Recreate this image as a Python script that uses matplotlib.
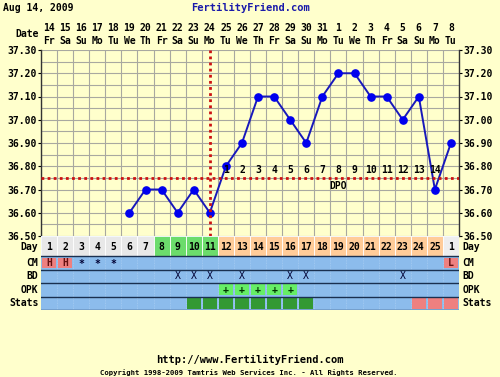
import matplotlib
matplotlib.use("Agg")
import matplotlib.pyplot as plt
import numpy as np
from matplotlib.transforms import blended_transform_factory

# ---------------- data ----------------
dates = [14, 15, 16, 17, 18, 19, 20, 21, 22, 23, 24, 25, 26, 27, 28, 29, 30, 31,
         1, 2, 3, 4, 5, 6, 7, 8]
weekdays = ['Fr', 'Sa', 'Su', 'Mo', 'Tu', 'We', 'Th', 'Fr', 'Sa', 'Su', 'Mo', 'Tu', 'We',
            'Th', 'Fr', 'Sa', 'Su', 'Mo', 'Tu', 'We', 'Th', 'Fr', 'Sa', 'Su', 'Mo', 'Tu']
cycle_days = list(range(1, 26)) + [1]
temp_cols = list(range(5, 26))  # column index (0-based) of charted temps (cycle day 6 .. next day 1)
temps = [36.60, 36.70, 36.70, 36.60, 36.70, 36.60, 36.80, 36.90, 37.10, 37.10, 37.00,
         36.90, 37.10, 37.20, 37.20, 37.10, 37.10, 37.00, 37.10, 36.70, 36.90]
coverline = 36.75
ovulation_col = 10  # cycle day 11
dpo_cols = list(range(11, 25))
dpo_labels = [str(i) for i in range(1, 15)]
cm_marks = {0: 'H', 1: 'H', 2: '*', 3: '*', 4: '*', 25: 'L'}
bd_cols = [8, 9, 10, 12, 15, 16, 22]
opk_cols = [11, 12, 13, 14, 15]
stats_green = [9, 10, 11, 12, 13, 14, 15, 16]
stats_red = [23, 24, 25]
y_ticks = [36.50, 36.60, 36.70, 36.80, 36.90, 37.00, 37.10, 37.20, 37.30]
row_names = ['Day', 'CM', 'BD', 'OPK', 'Stats']

# ---------------- style ----------------
BG = '#FFFFCC'
GRID = '#A8A8A0'
BLUE_ROW = '#8CBCEC'
FONT = 'DejaVu Sans Mono'
fs = 7

W, H = 500, 377
fig = plt.figure(figsize=(W / 100, H / 100), dpi=100, facecolor=BG)

L, R = 41, 459
top, chart_bot, table_bot = 50, 236, 310
ncol = len(dates)

ax = fig.add_axes([L / W, 1 - chart_bot / H, (R - L) / W, (chart_bot - top) / H])
ax.set_facecolor(BG)
ax.set_xlim(0, ncol)
ax.set_ylim(36.5, 37.3)

# grid
for x in range(ncol + 1):
    ax.axvline(x, color=GRID, lw=0.8, zorder=1)
for yv in np.arange(36.5, 37.3001, 0.05):
    ax.axhline(yv, color=GRID, lw=0.8, zorder=1)

for s in ['top', 'bottom']:
    ax.spines[s].set_visible(False)
for s in ['left', 'right']:
    ax.spines[s].set_color('#333333')
    ax.spines[s].set_linewidth(1)

ax.set_xticks([])
ax.set_yticks(y_ticks)
ax.set_yticklabels([f'{v:.2f}' for v in y_ticks])
ax.tick_params(axis='y', length=2, labelleft=True, labelright=True, left=True, right=True,
               pad=1, labelsize=fs, width=0.8)
for lab in ax.get_yticklabels():
    lab.set_fontfamily(FONT)
    lab.set_fontweight('bold')

# temps
xs = np.array(temp_cols) + 0.5
ax.plot(xs, temps, color='#1818BB', lw=1.4, marker='o', markersize=5.2,
        markerfacecolor='#0000EE', markeredgecolor='#0000EE', zorder=3)

# coverline & ovulation line
ax.axhline(coverline, color='#CC1111', lw=2.0, linestyle=(0, (1, 1.2)), zorder=4)
ax.axvline(ovulation_col + 0.5, color='#CC1111', lw=2.0, linestyle=(0, (1, 1.2)), zorder=4)

# DPO labels
for c, t in zip(dpo_cols, dpo_labels):
    ax.text(c + 0.5, 36.785, t, ha='center', va='center', fontsize=fs,
            fontfamily=FONT, fontweight='bold', zorder=5)
ax.text(18.5, 36.716, 'DPO', ha='center', va='center', fontsize=fs,
        fontfamily=FONT, fontweight='bold', zorder=5)

# top dates
tr = blended_transform_factory(ax.transData, ax.transAxes)
for i, (d, w) in enumerate(zip(dates, weekdays)):
    ax.text(i + 0.5, 1.118, str(d), transform=tr, ha='center', va='center',
            fontsize=fs, fontfamily=FONT, fontweight='bold')
    ax.text(i + 0.5, 1.048, w, transform=tr, ha='center', va='center',
            fontsize=fs, fontfamily=FONT, fontweight='bold')
fig.text((L - 2) / W, 1 - 34 / H, 'Date', ha='right', va='center', fontsize=fs,
         fontfamily=FONT, fontweight='bold')

# ---------------- table ----------------
ax2 = fig.add_axes([L / W, 1 - table_bot / H, (R - L) / W, (table_bot - chart_bot) / H])
ax2.set_facecolor(BLUE_ROW)
ax2.set_xlim(0, ncol)
row_bounds = [0, 1.5, 2.5, 3.5, 4.5, 5.5]
ax2.set_ylim(5.5, 0)
ax2.set_xticks([])
ax2.set_yticks([])
for s in ax2.spines.values():
    s.set_visible(False)

cols = np.arange(ncol)
day_colors = []
for i, d in enumerate(cycle_days):
    if i == ncol - 1:
        day_colors.append('#EEEEEE')
    elif d <= 7:
        day_colors.append('#E8E8E8')
    elif d <= 11:
        day_colors.append('#6CDC6C')
    else:
        day_colors.append('#FFCC99')
ax2.bar(cols + 0.5, 1.5, bottom=0, width=1.0, color=day_colors, edgecolor='#FFFFFF',
        linewidth=0.6, zorder=1)
for i, d in enumerate(cycle_days):
    ax2.text(i + 0.5, 0.8, str(d), ha='center', va='center', fontsize=fs,
             fontfamily=FONT, fontweight='bold', zorder=3)

# column separators in blue rows
for x in range(1, ncol):
    ax2.plot([x, x], [1.5, 5.5], color='#A6CCF2', lw=0.6, linestyle=(0, (1, 1)), zorder=1)

# CM
cm_cols = [c for c in cm_marks]
for c in cm_cols:
    m = cm_marks[c]
    if m in ('H', 'L'):
        ax2.bar(c + 0.5, 0.8, bottom=1.6, width=0.85, color='#EE8080', zorder=2)
    ax2.text(c + 0.5, 2.0 if m != '*' else 2.1, m, ha='center', va='center', fontsize=fs,
             fontfamily=FONT, fontweight='bold', color='#661111' if m != '*' else '#000033', zorder=3)
# BD
for c in bd_cols:
    ax2.text(c + 0.5, 3.0, 'X', ha='center', va='center', fontsize=fs,
             fontfamily=FONT, color='#000033', zorder=3)
# OPK
ax2.bar(np.array(opk_cols) + 0.5, 0.8, bottom=3.6, width=0.85, color='#66EE66', zorder=2)
for c in opk_cols:
    ax2.text(c + 0.5, 4.0, '+', ha='center', va='center', fontsize=fs,
             fontfamily=FONT, fontweight='bold', color='#003300', zorder=3)
# Stats
ax2.bar(np.array(stats_green) + 0.5, 0.8, bottom=4.6, width=0.85, color='#339933', zorder=2)
ax2.bar(np.array(stats_red) + 0.5, 0.8, bottom=4.6, width=0.85, color='#EE8080', zorder=2)

# row separators
for b in row_bounds[1:]:
    ax2.axhline(b, color='#1A3050', lw=1.0, zorder=4)

# row labels both sides
tr2 = blended_transform_factory(ax2.transAxes, ax2.transData)
for name, a, b in zip(row_names, row_bounds[:-1], row_bounds[1:]):
    yc = (a + b) / 2 + (0.1 if name == 'Day' else 0)
    ax2.text(-0.006, yc, name, transform=tr2, ha='right', va='center', fontsize=fs,
             fontfamily=FONT, fontweight='bold')
    ax2.text(1.008, yc, name, transform=tr2, ha='left', va='center', fontsize=fs,
             fontfamily=FONT, fontweight='bold')

# header / footer
fig.text(3 / W, 1 - 8 / H, 'Aug 14, 2009', ha='left', va='center', fontsize=fs,
         fontfamily=FONT, fontweight='bold')
fig.text(251 / W, 1 - 8 / H, 'FertilityFriend.com', ha='center', va='center', fontsize=7.5,
         fontfamily=FONT, fontweight='bold', color='#1A1AAA')
fig.text(250 / W, 1 - 360 / H, 'http://www.FertilityFriend.com', ha='center', va='center',
         fontsize=7.5, fontfamily=FONT, fontweight='bold')
fig.text(249 / W, 1 - 373 / H,
         'Copyright 1998-2009 Tamtris Web Services Inc. - All Rights Reserved.',
         ha='center', va='center', fontsize=5.2, fontfamily=FONT, fontweight='bold')

fig.savefig('out.png', dpi=100, facecolor=BG)
